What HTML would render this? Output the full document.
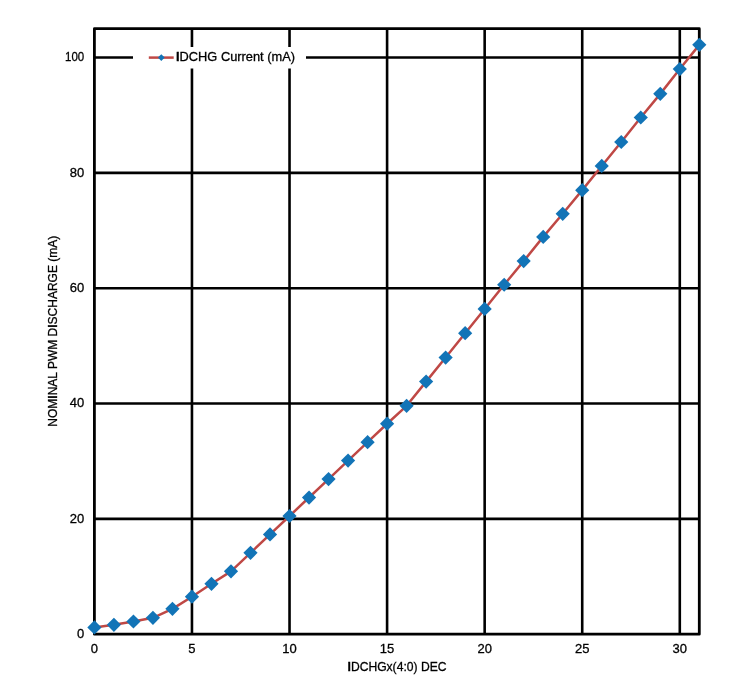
<!DOCTYPE html>
<html><head><meta charset="utf-8"><title>IDCHG Current chart</title>
<style>
html,body{margin:0;padding:0;background:#fff;}
body{width:748px;height:681px;overflow:hidden;}
svg{display:block;will-change:transform;font-family:"Liberation Sans", Arial, sans-serif;}
text{fill:#000;stroke:#000;stroke-width:0.3;}
</style></head><body>
<svg width="748" height="681" viewBox="0 0 748 681">
<line x1="191.96" y1="28.70" x2="191.96" y2="634.20" stroke="#000" stroke-width="2.6"/>
<line x1="289.53" y1="28.70" x2="289.53" y2="634.20" stroke="#000" stroke-width="2.6"/>
<line x1="387.09" y1="28.70" x2="387.09" y2="634.20" stroke="#000" stroke-width="2.6"/>
<line x1="484.66" y1="28.70" x2="484.66" y2="634.20" stroke="#000" stroke-width="2.6"/>
<line x1="582.22" y1="28.70" x2="582.22" y2="634.20" stroke="#000" stroke-width="2.6"/>
<line x1="679.79" y1="28.70" x2="679.79" y2="634.20" stroke="#000" stroke-width="2.6"/>
<line x1="94.40" y1="518.87" x2="699.30" y2="518.87" stroke="#000" stroke-width="2.6"/>
<line x1="94.40" y1="403.53" x2="699.30" y2="403.53" stroke="#000" stroke-width="2.6"/>
<line x1="94.40" y1="288.20" x2="699.30" y2="288.20" stroke="#000" stroke-width="2.6"/>
<line x1="94.40" y1="172.87" x2="699.30" y2="172.87" stroke="#000" stroke-width="2.6"/>
<line x1="94.40" y1="57.53" x2="699.30" y2="57.53" stroke="#000" stroke-width="2.6"/>
<rect x="133" y="47" width="173" height="21.5" fill="#fff"/>
<rect x="94.40" y="28.70" width="604.90" height="605.50" fill="none" stroke="#000" stroke-width="2.8" stroke-linejoin="round"/>
<polyline points="94.40,627.40 113.91,624.80 133.43,621.51 152.94,617.82 172.45,608.83 191.96,596.72 211.48,583.80 230.99,571.34 250.50,552.83 270.02,534.44 289.53,515.98 309.04,497.53 328.55,479.08 348.07,460.62 367.58,442.17 387.09,423.72 406.61,405.84 426.12,381.62 445.63,357.57 465.15,333.18 484.66,308.96 504.17,284.74 523.68,261.10 543.20,236.88 562.71,213.81 582.22,190.17 601.74,165.95 621.25,142.02 640.76,117.51 660.27,93.86 679.79,69.07 699.30,44.85" fill="none" stroke="#bf4845" stroke-width="2.5" stroke-linejoin="round"/>
<path d="M94.40 620.30L101.50 627.40L94.40 634.50L87.30 627.40Z" fill="#1274b7"/>
<path d="M113.91 617.70L121.01 624.80L113.91 631.90L106.81 624.80Z" fill="#1274b7"/>
<path d="M133.43 614.41L140.53 621.51L133.43 628.61L126.33 621.51Z" fill="#1274b7"/>
<path d="M152.94 610.72L160.04 617.82L152.94 624.92L145.84 617.82Z" fill="#1274b7"/>
<path d="M172.45 601.73L179.55 608.83L172.45 615.93L165.35 608.83Z" fill="#1274b7"/>
<path d="M191.96 589.62L199.06 596.72L191.96 603.82L184.86 596.72Z" fill="#1274b7"/>
<path d="M211.48 576.70L218.58 583.80L211.48 590.90L204.38 583.80Z" fill="#1274b7"/>
<path d="M230.99 564.24L238.09 571.34L230.99 578.44L223.89 571.34Z" fill="#1274b7"/>
<path d="M250.50 545.73L257.60 552.83L250.50 559.93L243.40 552.83Z" fill="#1274b7"/>
<path d="M270.02 527.34L277.12 534.44L270.02 541.54L262.92 534.44Z" fill="#1274b7"/>
<path d="M289.53 508.88L296.63 515.98L289.53 523.08L282.43 515.98Z" fill="#1274b7"/>
<path d="M309.04 490.43L316.14 497.53L309.04 504.63L301.94 497.53Z" fill="#1274b7"/>
<path d="M328.55 471.98L335.65 479.08L328.55 486.18L321.45 479.08Z" fill="#1274b7"/>
<path d="M348.07 453.52L355.17 460.62L348.07 467.72L340.97 460.62Z" fill="#1274b7"/>
<path d="M367.58 435.07L374.68 442.17L367.58 449.27L360.48 442.17Z" fill="#1274b7"/>
<path d="M387.09 416.62L394.19 423.72L387.09 430.82L379.99 423.72Z" fill="#1274b7"/>
<path d="M406.61 398.74L413.71 405.84L406.61 412.94L399.51 405.84Z" fill="#1274b7"/>
<path d="M426.12 374.52L433.22 381.62L426.12 388.72L419.02 381.62Z" fill="#1274b7"/>
<path d="M445.63 350.47L452.73 357.57L445.63 364.67L438.53 357.57Z" fill="#1274b7"/>
<path d="M465.15 326.08L472.25 333.18L465.15 340.28L458.05 333.18Z" fill="#1274b7"/>
<path d="M484.66 301.86L491.76 308.96L484.66 316.06L477.56 308.96Z" fill="#1274b7"/>
<path d="M504.17 277.64L511.27 284.74L504.17 291.84L497.07 284.74Z" fill="#1274b7"/>
<path d="M523.68 254.00L530.78 261.10L523.68 268.20L516.58 261.10Z" fill="#1274b7"/>
<path d="M543.20 229.78L550.30 236.88L543.20 243.98L536.10 236.88Z" fill="#1274b7"/>
<path d="M562.71 206.71L569.81 213.81L562.71 220.91L555.61 213.81Z" fill="#1274b7"/>
<path d="M582.22 183.07L589.32 190.17L582.22 197.27L575.12 190.17Z" fill="#1274b7"/>
<path d="M601.74 158.85L608.84 165.95L601.74 173.05L594.64 165.95Z" fill="#1274b7"/>
<path d="M621.25 134.92L628.35 142.02L621.25 149.12L614.15 142.02Z" fill="#1274b7"/>
<path d="M640.76 110.41L647.86 117.51L640.76 124.61L633.66 117.51Z" fill="#1274b7"/>
<path d="M660.27 86.76L667.37 93.86L660.27 100.96L653.17 93.86Z" fill="#1274b7"/>
<path d="M679.79 61.97L686.89 69.07L679.79 76.17L672.69 69.07Z" fill="#1274b7"/>
<path d="M699.30 37.75L706.40 44.85L699.30 51.95L692.20 44.85Z" fill="#1274b7"/>
<line x1="148.8" y1="57.6" x2="173.7" y2="57.6" stroke="#bf4845" stroke-width="2.5"/>
<path d="M161.3 54.2L164.70000000000002 57.6L161.3 61.0L157.9 57.6Z" fill="#1274b7"/>
<text x="176" y="61.4" font-size="13" textLength="119" lengthAdjust="spacingAndGlyphs"><tspan font-weight="bold">I</tspan>DCHG Current (mA)</text>
<text x="84.2" y="638.10" text-anchor="end" font-size="13">0</text>
<text x="84.2" y="522.77" text-anchor="end" font-size="13">20</text>
<text x="84.2" y="407.43" text-anchor="end" font-size="13">40</text>
<text x="84.2" y="292.10" text-anchor="end" font-size="13">60</text>
<text x="84.2" y="176.77" text-anchor="end" font-size="13">80</text>
<text x="84.2" y="61.43" text-anchor="end" font-size="13" textLength="19.2" lengthAdjust="spacingAndGlyphs">100</text>
<text x="94.40" y="653.3" text-anchor="middle" font-size="13">0</text>
<text x="191.96" y="653.3" text-anchor="middle" font-size="13">5</text>
<text x="289.53" y="653.3" text-anchor="middle" font-size="13">10</text>
<text x="387.09" y="653.3" text-anchor="middle" font-size="13">15</text>
<text x="484.66" y="653.3" text-anchor="middle" font-size="13">20</text>
<text x="582.22" y="653.3" text-anchor="middle" font-size="13">25</text>
<text x="679.79" y="653.3" text-anchor="middle" font-size="13">30</text>
<text x="347.5" y="671" font-size="13" textLength="99" lengthAdjust="spacingAndGlyphs"><tspan font-weight="bold">I</tspan>DCHGx(4:0) DEC</text>
<text transform="translate(56.8 331.2) rotate(-90)" text-anchor="middle" font-size="13" textLength="191" lengthAdjust="spacingAndGlyphs">NOM<tspan font-weight="bold">I</tspan>NAL PWM D<tspan font-weight="bold">I</tspan>SCHARGE (mA)</text>
</svg>
</body></html>
